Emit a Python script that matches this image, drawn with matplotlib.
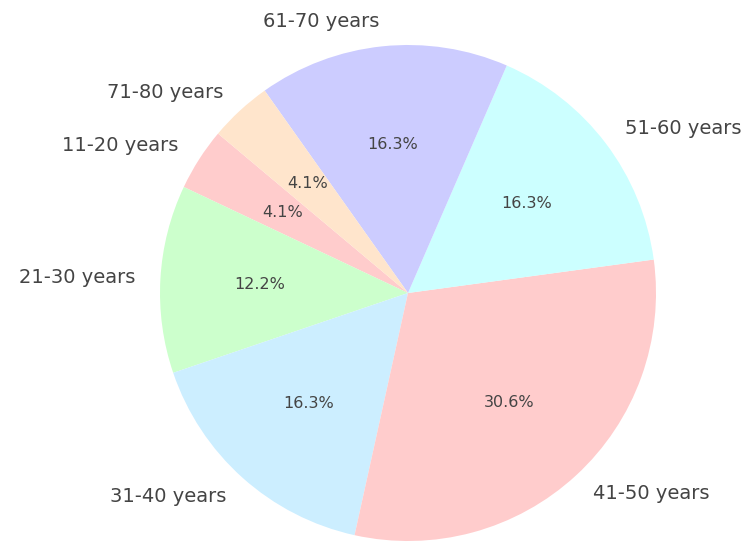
import matplotlib
matplotlib.use("Agg")
import matplotlib.pyplot as plt

age_groups = ["11-20 years", "21-30 years", "31-40 years", "41-50 years",
              "51-60 years", "61-70 years", "71-80 years"]
counts = [2, 6, 8, 15, 8, 8, 2]
colors = ["#ffcccc", "#ccffcc", "#cceeff", "#ffcccc",
          "#ccffff", "#ccccff", "#ffe5cc"]

fig = plt.figure(figsize=(7.5, 5.45), dpi=100)
# pie centre at (408, 252) px from bottom-left, radius 248 px
ax = fig.add_axes([160 / 750, 4 / 545, 496 / 750, 496 / 545])

wedges, texts, autotexts = ax.pie(counts, labels=age_groups, colors=colors,
                                  autopct="%1.1f%%", startangle=140,
                                  textprops={"color": "#444444"})
for t in texts:
    t.set_fontsize(14)
for t in autotexts:
    t.set_fontsize(11.5)

ax.set_xlim(-1, 1)
ax.set_ylim(-1, 1)
ax.set_aspect("equal")

plt.savefig("out.png")
